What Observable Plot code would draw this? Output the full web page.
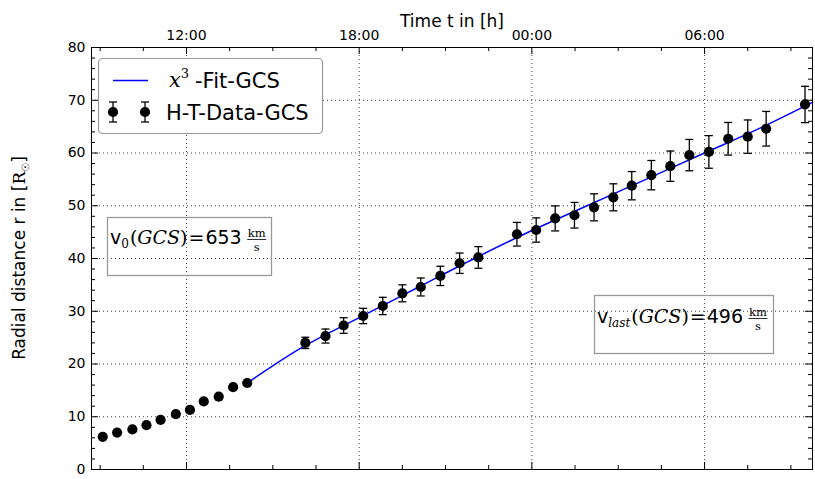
<!DOCTYPE html>
<html><head><meta charset="utf-8">
<script src="https://cdn.jsdelivr.net/npm/d3@7"></script>
<script src="https://cdn.jsdelivr.net/npm/@observablehq/plot@0.6"></script>
<style>body{margin:0;background:#fff} #chart svg{display:block}</style>
</head><body><div id="chart"></div>
<script>
// Time axis in hours (24 = 00:00 next day)
const earlyTime = [9.09, 9.59, 10.12, 10.61, 11.10, 11.63, 12.12, 12.60, 13.12, 13.62, 14.11];
const earlyR    = [6.2, 7.0, 7.6, 8.4, 9.4, 10.5, 11.3, 12.9, 13.8, 15.6, 16.4];
const errTime = [16.13, 16.83, 17.46, 18.14, 18.82, 19.50, 20.14, 20.82, 21.49, 22.14,
                 23.48, 24.15, 24.81, 25.48, 26.16, 26.83, 27.47, 28.15, 28.81, 29.47, 30.15, 30.82, 31.50, 32.14, 33.49];
const errR    = [24.0, 25.3, 27.3, 29.1, 31.0, 33.4, 34.6, 36.7, 39.1, 40.2,
                 44.6, 45.4, 47.6, 48.2, 49.7, 51.6, 53.8, 55.8, 57.5, 59.6, 60.2, 62.7, 63.1, 64.6, 69.2];
const errBar  = [1.07, 1.33, 1.48, 1.45, 1.64, 1.61, 1.70, 1.83, 1.93, 2.05,
                 2.24, 2.30, 2.37, 2.43, 2.56, 2.56, 2.68, 2.78, 2.87, 2.97, 3.09, 3.09, 3.16, 3.28, 3.44];
const fitTime = [14.11, 16, 18, 20, 22, 24, 26, 28, 30, 32, 33.75];
const fitR    = [16.4, 23.1, 28.8, 34.4, 40.0, 45.3, 50.2, 55.1, 60.0, 64.9, 69.6];
const xTicks = [12, 18, 24, 30];
const xTickLabels = ["12:00", "18:00", "00:00", "06:00"];
const xMinor = [9, 10.5, 13.5, 15, 16.5, 19.5, 21, 22.5, 25.5, 27, 28.5, 31.5, 33];
const yTicks = [0, 10, 20, 30, 40, 50, 60, 70, 80];
const yMinor = [2,4,6,8,12,14,16,18,22,24,26,28,32,34,36,38,42,44,46,48,52,54,56,58,62,64,66,68,72,74,76,78];
const yGrid = [10, 20, 30, 40, 50, 60, 70];

const W = 815, H = 479, mL = 91, mR = 3, mT = 47, mB = 10;
const fw = W - mL - mR, fh = H - mT - mB;
const early = earlyTime.map((t, i) => ({t, r: earlyR[i]}));
const data = errTime.map((t, i) => ({t, r: errR[i], e: errBar[i]}));
const fit = fitTime.map((t, i) => ({t, r: fitR[i]}));
const cap = {draw(ctx) { ctx.moveTo(-4, 0); ctx.lineTo(4, 0); }};

const plot = Plot.plot({
  width: W, height: H, marginLeft: mL, marginRight: mR, marginTop: mT, marginBottom: mB,
  style: {fontFamily: "DejaVu Sans", background: "white", color: "black", overflow: "visible"},
  x: {domain: [8.70, 33.75]},
  y: {domain: [0, 80]},
  marks: [
    Plot.gridX(xTicks, {stroke: "black", strokeOpacity: 0.75, strokeDasharray: "1,3"}),
    Plot.gridY(yGrid, {stroke: "black", strokeOpacity: 0.75, strokeDasharray: "1,3"}),
    Plot.tickX(xMinor, {x: d => d, insetBottom: fh - 4, stroke: "black"}),
    Plot.tickX(xTicks, {x: d => d, insetBottom: fh - 7, stroke: "black"}),
    Plot.tickX(xMinor, {x: d => d, insetTop: fh - 4, stroke: "black"}),
    Plot.tickX(xTicks, {x: d => d, insetTop: fh - 7, stroke: "black"}),
    Plot.tickY(yMinor, {y: d => d, insetRight: fw - 4, stroke: "black"}),
    Plot.tickY(yTicks, {y: d => d, insetRight: fw - 7, stroke: "black"}),
    Plot.tickY(yMinor, {y: d => d, insetLeft: fw - 4, stroke: "black"}),
    Plot.tickY(yTicks, {y: d => d, insetLeft: fw - 7, stroke: "black"}),
    Plot.axisX(xTicks, {anchor: "top", tickSize: 0, tickPadding: 8, fontSize: 14,
      tickFormat: d => xTickLabels[xTicks.indexOf(d)], label: null}),
    Plot.axisY(yTicks, {anchor: "left", tickSize: 0, tickPadding: 6, fontSize: 14, label: null}),
    Plot.text(["Time t in [h]"], {frameAnchor: "top", dy: -33, fontSize: 17}),
    Plot.line(fit, {x: "t", y: "r", stroke: "#0000ff", strokeWidth: 1.5, curve: "monotone-x"}),
    Plot.ruleX(data, {x: "t", y1: d => d.r - d.e, y2: d => d.r + d.e, stroke: "black", strokeWidth: 1.3}),
    Plot.dot(data, {x: "t", y: d => d.r - d.e, symbol: cap, stroke: "black", strokeWidth: 1.3, fill: "none"}),
    Plot.dot(data, {x: "t", y: d => d.r + d.e, symbol: cap, stroke: "black", strokeWidth: 1.3, fill: "none"}),
    Plot.dot(early, {x: "t", y: "r", r: 5.1, fill: "black"}),
    Plot.dot(data, {x: "t", y: "r", r: 5.1, fill: "black"}),
    Plot.frame({stroke: "black", strokeWidth: 1})
  ]
});
document.getElementById("chart").appendChild(plot);

const svg = d3.select(plot);
const SERIF = "DejaVu Serif";
const txt = (sel) => sel.append("text").attr("text-anchor", "start").attr("font-family", "DejaVu Sans");

// Y axis label
const yl = svg.append("text").attr("transform", "translate(25,258) rotate(-90)")
  .attr("text-anchor", "middle").attr("font-size", 17).attr("font-family", "DejaVu Sans");
yl.append("tspan").text("Radial distance r in [");
yl.append("tspan").attr("font-family", SERIF).text("R");
yl.append("tspan").attr("font-size", 10).attr("dy", 4).text("☉");
yl.append("tspan").attr("dy", -4).text("]");

// Legend
const lg = svg.append("g");
lg.append("rect").attr("x", 98.5).attr("y", 58.5).attr("width", 224).attr("height", 75).attr("rx", 4)
  .attr("fill", "white").attr("stroke", "#999").attr("stroke-width", 1.2);
lg.append("line").attr("x1", 113).attr("x2", 148).attr("y1", 80.5).attr("y2", 80.5)
  .attr("stroke", "#0000ff").attr("stroke-width", 1.5);
const t1 = txt(lg).attr("x", 169).attr("y", 87).attr("font-size", 21);
t1.append("tspan").attr("font-family", SERIF).attr("font-style", "italic").text("x");
t1.append("tspan").attr("font-family", SERIF).attr("font-size", 13).attr("dy", -9).text("3");
txt(lg).attr("x", 195).attr("y", 87.5).attr("font-size", 21).text("-Fit-GCS");
for (const cx of [113, 145]) {
  lg.append("line").attr("x1", cx).attr("x2", cx).attr("y1", 102).attr("y2", 122).attr("stroke", "black").attr("stroke-width", 1.3);
  lg.append("line").attr("x1", cx - 4).attr("x2", cx + 4).attr("y1", 102).attr("y2", 102).attr("stroke", "black").attr("stroke-width", 1.3);
  lg.append("line").attr("x1", cx - 4).attr("x2", cx + 4).attr("y1", 122).attr("y2", 122).attr("stroke", "black").attr("stroke-width", 1.3);
  lg.append("circle").attr("cx", cx).attr("cy", 112).attr("r", 5.1).attr("fill", "black");
}
txt(lg).attr("x", 166).attr("y", 119.5).attr("font-size", 21).text("H-T-Data-GCS");

// Annotation boxes
function annot(bx, by, bw, bh, tx, ty, sub, subItalic, value) {
  const g = svg.append("g");
  g.append("rect").attr("x", bx).attr("y", by).attr("width", bw).attr("height", bh)
    .attr("fill", "none").attr("stroke", "#999").attr("stroke-width", 1.3);
  const t = txt(g).attr("x", tx).attr("y", ty).attr("font-size", 19);
  t.append("tspan").text("v");
  t.append("tspan").attr("font-family", SERIF).attr("font-size", 12).attr("dy", 4)
    .attr("font-style", subItalic ? "italic" : "normal").text(sub);
  t.append("tspan").attr("font-family", SERIF).attr("dy", -4).attr("dx", 1).text("(");
  t.append("tspan").attr("font-family", SERIF).attr("font-style", "italic").text("GCS");
  t.append("tspan").attr("font-family", SERIF).text(")");
  t.append("tspan").attr("dx", 1).text("=");
  t.append("tspan").attr("dx", 1).text(value);
  const w = t.node().getComputedTextLength();
  const fx = tx + w + 18;
  g.append("text").attr("x", fx).attr("y", ty - 7).attr("text-anchor", "middle")
    .attr("font-family", SERIF).attr("font-size", 11.5).text("km");
  g.append("line").attr("x1", fx - 9.5).attr("x2", fx + 9.5).attr("y1", ty - 4.5).attr("y2", ty - 4.5)
    .attr("stroke", "black").attr("stroke-width", 0.8);
  g.append("text").attr("x", fx).attr("y", ty + 6.5).attr("text-anchor", "middle")
    .attr("font-family", SERIF).attr("font-size", 11.5).text("s");
}
annot(107.5, 217.5, 164, 58, 110, 244, "0", false, "653");
annot(594.5, 295.5, 179, 58, 597, 323, "last", true, "496");
</script>
</body></html>
